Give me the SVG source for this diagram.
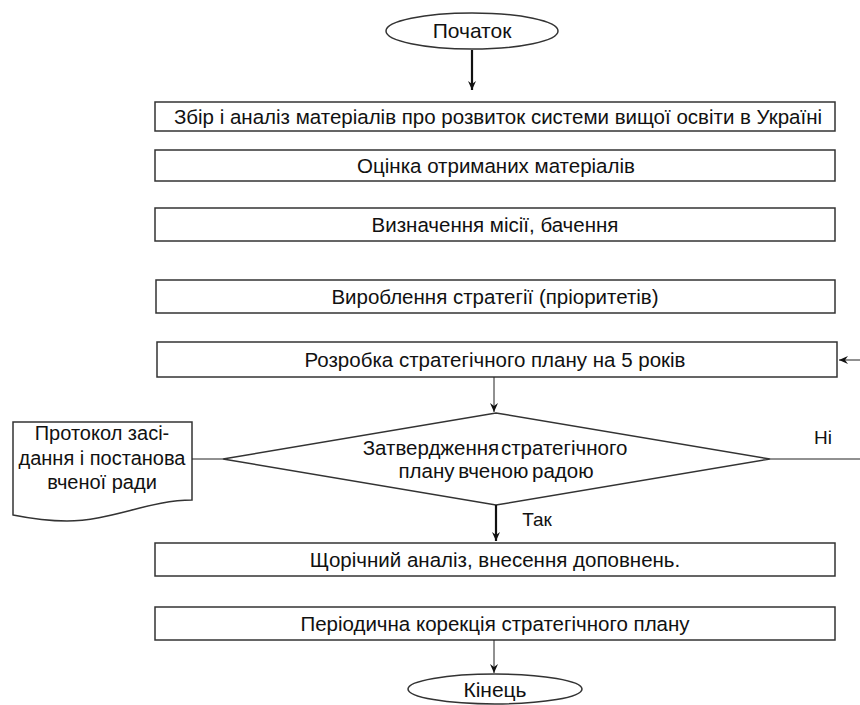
<svg xmlns="http://www.w3.org/2000/svg" width="860" height="705" viewBox="0 0 860 705">
<defs>
<style>
.box{fill:#fff;stroke:#333;stroke-width:1.5}
.t{font-family:"Liberation Sans",Arial,sans-serif;font-size:20.5px;fill:#111;text-anchor:middle}
.s{font-size:19px}
.d{font-size:20px}
.e{font-size:21px}
.thin{stroke:#222;stroke-width:1;fill:none}
.thick{stroke:#111;stroke-width:2.2;fill:none}
</style>
<marker id="ah" markerWidth="10" markerHeight="10" refX="9" refY="5" orient="auto" markerUnits="userSpaceOnUse">
<path d="M0,1 L9,5 L0,9 L3,5 Z" fill="#111"/>
</marker>
</defs>
<rect width="860" height="705" fill="#fff"/>
<g id="start">
<ellipse cx="472" cy="31" rx="86" ry="18" class="box"/>
<text x="472" y="38" class="t e">Початок</text>
</g>
<g id="n1">
<rect x="155" y="102" width="680" height="29" class="box"/>
<text x="498" y="124" class="t">Збір і аналіз матеріалів про розвиток системи вищої освіти в Україні</text>
</g>
<g id="n2">
<rect x="155" y="150" width="680" height="31" class="box"/>
<text x="496" y="173" class="t">Оцінка отриманих матеріалів</text>
</g>
<g id="n3">
<rect x="155" y="208" width="680" height="33" class="box"/>
<text x="495" y="232" class="t">Визначення місії, бачення</text>
</g>
<g id="n4">
<rect x="156" y="280" width="679" height="33" class="box"/>
<text x="495" y="304" class="t">Вироблення стратегії (пріоритетів)</text>
</g>
<g id="n5">
<rect x="157" y="342" width="680" height="35" class="box"/>
<text x="495" y="367" class="t">Розробка стратегічного плану на 5 років</text>
</g>
<g id="decision">
<polygon points="496,413 770,459 496,505 223,459" class="box"/>
<text x="495" y="455" class="t" word-spacing="-4">Затвердження стратегічного</text>
<text x="496" y="478" class="t" word-spacing="-2">плану вченою радою</text>
</g>
<g id="doc">
<path d="M13,422 H192 V500 C150,500 110,521 67,521 C45,521 28,518 13,515 Z" class="box"/>
<text x="102" y="440" class="t d">Протокол засі-</text>
<text x="102" y="465" class="t d">дання і постанова</text>
<text x="102" y="489" class="t d">вченої ради</text>
</g>
<g id="n6">
<rect x="155" y="543" width="680" height="33" class="box"/>
<text x="495" y="567" class="t">Щорічний аналіз, внесення доповнень.</text>
</g>
<g id="n7">
<rect x="155" y="607" width="680" height="33" class="box"/>
<text x="495" y="631" class="t">Періодична корекція стратегічного плану</text>
</g>
<g id="end">
<ellipse cx="495" cy="689" rx="87" ry="15" class="box"/>
<text x="495" y="697" class="t e">Кінець</text>
</g>
<g id="connectors">
<line x1="472" y1="50" x2="472" y2="90" class="thick" marker-end="url(#ah)"/>
<line x1="860" y1="360" x2="839" y2="360" class="thin" marker-end="url(#ah)"/>
<line x1="494" y1="377" x2="494" y2="412" class="thin" marker-end="url(#ah)"/>
<line x1="770" y1="459" x2="860" y2="459" class="thin"/>
<line x1="192" y1="459" x2="223" y2="459" class="thin"/>
<line x1="496" y1="505" x2="496" y2="541" class="thick" marker-end="url(#ah)"/>
<line x1="494" y1="640" x2="494" y2="673" class="thin" marker-end="url(#ah)"/>
<text x="823" y="444" class="t s">Ні</text>
<text x="537" y="526" class="t s">Так</text>
</g>
</svg>
